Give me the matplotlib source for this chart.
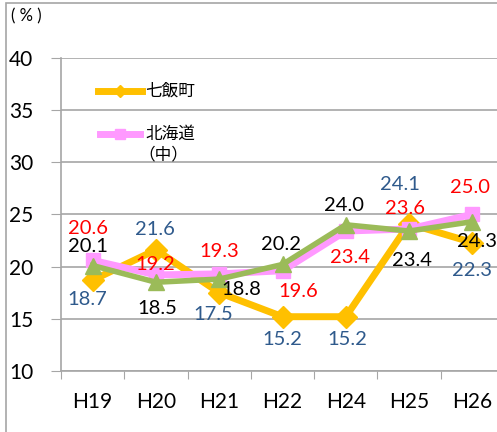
import matplotlib.pyplot as plt
from matplotlib.patches import Rectangle

plt.rcParams['font.family'] = ['Lato', 'Noto Sans CJK JP', 'DejaVu Sans']

years = ['H19', 'H20', 'H21', 'H22', 'H24', 'H25', 'H26']
nanae = [18.7, 21.6, 17.5, 15.2, 15.2, 24.1, 22.3]
hokkaido = [20.6, 19.2, 19.3, 19.6, 23.4, 23.6, 25.0]
third = [20.1, 18.5, 18.8, 20.2, 24.0, 23.4, 24.3]

# label offsets in pixels (dx, dy) for each series
off_nanae = [(-5, -19), (-1, 20), (-6, -22), (0, -23), (2, -23), (-9, 39), (0, -28)]
off_hok = [(-5, 32), (-1, 10), (0, 22), (16, -21), (4, -26), (-4, 20), (-2, 27)]
off_third = [(-5, 19), (1, -26), (22, -10), (-2, 20), (-2, 19), (3, -29), (5, -20)]

c_orange = '#FFC000'
c_pink = '#FF99FF'
c_green = '#9BBB59'

fig = plt.figure(figsize=(4.97, 4.32), dpi=100)
ax = fig.add_axes([61/497, 1-371/432, 443/497, 313.3/432])

x = list(range(len(years)))
ax.plot(x, nanae, color=c_orange, lw=5, marker='D', ms=11, zorder=3)
ax.plot(x, hokkaido, color=c_pink, lw=5, marker='s', ms=10, zorder=4)
ax.plot(x, third, color=c_green, lw=4, marker='^', ms=12, zorder=5)

for vals, offs, col in [(nanae, off_nanae, '#2F5A8C'),
                        (hokkaido, off_hok, '#FF0000'),
                        (third, off_third, '#000000')]:
    for i, v in enumerate(vals):
        ax.annotate(f'{v:.1f}', (i, v), xytext=offs[i], textcoords='offset pixels',
                    ha='center', va='center', fontsize=14.5, color=col, zorder=6)

ax.set_xlim(-0.5, 6.5)
ax.set_ylim(10, 40)
ax.set_yticks([10, 15, 20, 25, 30, 35, 40])
ax.yaxis.grid(True, color='#A6A6A6', lw=1.2)
ax.set_axisbelow(True)
ax.set_xticks([i + 0.5 for i in range(-1, 7)], minor=False)
ax.set_xticklabels([])
ax.set_xticks(x, minor=True)
ax.set_xticklabels(years, minor=True)
ax.tick_params(axis='x', which='major', length=6, color='#A6A6A6', direction='out')
ax.tick_params(axis='x', which='minor', length=0, labelsize=15, pad=15)
ax.tick_params(axis='y', length=7, color='#A6A6A6', labelsize=15, pad=13)
for s in ['top', 'right']:
    ax.spines[s].set_visible(False)
for s in ['left', 'bottom']:
    ax.spines[s].set_color('#A6A6A6')
    ax.spines[s].set_linewidth(1.2)

# legend drawn by hand
ax.plot([0.0835, 0.133, 0.183], [0.894] * 3, transform=ax.transAxes, color=c_orange,
        lw=5, marker='D', ms=6, markevery=[1], clip_on=False)
ax.plot([0.088, 0.133, 0.178], [0.756] * 3, transform=ax.transAxes, color=c_pink,
        lw=5, marker='s', ms=7, markevery=[1], clip_on=False)
ax.text(0.19, 0.894, '七飯町', transform=ax.transAxes, fontsize=12,
        family=['Noto Sans CJK JP'], va='center')
ax.text(0.19, 0.756, '北海道', transform=ax.transAxes, fontsize=12,
        family=['Noto Sans CJK JP'], va='center')
ax.text(0.175, 0.689, '（中）', transform=ax.transAxes, fontsize=12,
        family=['Noto Sans CJK JP'], va='center')

fig.text(11/497, 1-16/432, '( % )', fontsize=12, va='center')

fig.add_artist(Rectangle((6/497, -0.1), 1.2, 1.1 - 3/432, transform=fig.transFigure,
                         fill=False, edgecolor='#A6A6A6', lw=1.2))

fig.savefig('out.png', dpi=100)
